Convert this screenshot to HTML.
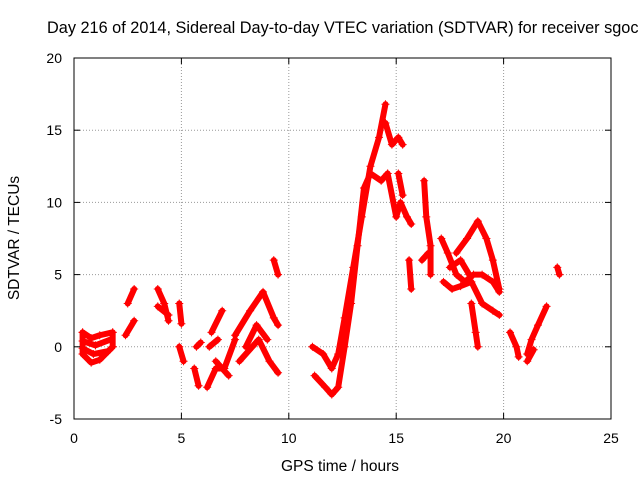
<!DOCTYPE html>
<html><head><meta charset="utf-8"><style>
body{margin:0;background:#fff;overflow:hidden;}
svg text{font-family:"Liberation Sans",sans-serif;font-size:14px;fill:#000;}
</style></head><body>
<svg id="chart" width="640" height="480" xmlns="http://www.w3.org/2000/svg">
<rect width="640" height="480" fill="#fff"/>
<text x="47" y="33" style="font-size:16.3px">Day 216 of 2014, Sidereal Day-to-day VTEC variation (SDTVAR) for receiver sgoc</text>
<g id="grid"></g>
<g id="marks"></g>
<rect x="74" y="58" width="537" height="361" fill="none" stroke="#000" stroke-width="1"/>
<g id="ticks"></g>
<text x="340" y="471" text-anchor="middle" style="font-size:15.5px">GPS time / hours</text>
<text transform="translate(19,238) rotate(-90)" text-anchor="middle" style="font-size:15.5px">SDTVAR / TECUs</text>
</svg>
<script>
const xTicks=[0,5,10,15,20,25];
const yTicks=[-5,0,5,10,15,20];
const tracks=[
[[0.4,1.0],[0.8,0.6],[1.2,0.8],[1.8,1.0]],
[[0.4,-0.5],[0.8,-1.1],[1.2,-0.9],[1.8,0.0]],
[[0.4,0.4],[1.0,0.1],[1.7,0.5]],
[[0.4,-0.1],[0.9,-0.5],[1.6,-0.3]],
[[0.4,1.0],[0.4,-0.5]],
[[1.8,1.0],[1.8,0.0]],
[[2.4,0.8],[2.8,1.8]],
[[2.5,3.0],[2.8,4.0]],
[[3.9,4.0],[4.2,3.0],[4.4,1.8]],
[[3.9,2.8],[4.4,2.2]],
[[4.9,3.0],[5.0,1.6]],
[[4.9,0.0],[5.1,-1.0]],
[[5.6,-1.5],[5.8,-2.7]],
[[5.7,0.0],[5.9,0.3]],
[[6.4,1.0],[6.9,2.5]],
[[6.3,0.0],[6.7,0.5]],
[[6.2,-2.8],[6.6,-1.5],[7.0,-1.5],[7.5,0.5]],
[[6.6,-1.0],[7.2,-2.0]],
[[7.5,0.8],[8.2,2.5],[8.8,3.8],[9.3,2.0],[9.5,1.5]],
[[7.7,-1.0],[8.3,0],[8.6,0.5],[9.1,-1.0],[9.5,-1.8]],
[[8.0,0],[8.5,1.5],[9.0,0.5]],
[[9.3,6],[9.5,5]],
[[11.1,0],[11.6,-0.5],[12.0,-1.5],[12.3,-0.5],[12.6,2],[13,5.5],[13.4,9],[13.8,12.5],[14.2,14.5],[14.5,16.8]],
[[11.2,-2],[11.7,-2.8],[12.0,-3.3],[12.3,-2.8],[12.6,0],[12.9,3],[13.2,7],[13.5,11],[13.8,12],[14.3,11.5],[14.6,12]],
[[14.5,15.5],[14.8,14],[15.1,14.5],[15.3,14]],
[[14.6,12],[15,9],[15.2,10],[15.5,9],[15.7,8.5]],
[[15.1,12],[15.3,10.5]],
[[15.6,6],[15.7,4]],
[[16.3,11.5],[16.4,9],[16.6,7],[16.6,5]],
[[16.2,6],[16.5,6.5]],
[[17.1,7.5],[17.4,6.5],[17.8,5],[18.2,4.5],[18.6,5],[19,5],[19.5,4.5],[19.8,3.8]],
[[17.2,4.5],[17.6,4],[18,4.2],[18.5,4.5],[19,3],[19.5,2.5],[19.8,2.2]],
[[17.8,6.5],[18.3,7.5],[18.8,8.7],[19.2,7.5],[19.5,6],[19.8,4]],
[[17.5,5.5],[18.0,6.0],[18.4,5]],
[[18.5,3],[18.7,1],[18.8,0]],
[[20.3,1],[20.6,0],[20.7,-0.7]],
[[21.1,-0.5],[21.3,0.5],[21.6,1.5],[22,2.8]],
[[21.1,-1],[21.4,-0.2]],
[[22.5,5.5],[22.6,5]]
];
const NS="http://www.w3.org/2000/svg";
const X=v=>74+v*537/25;
const Y=v=>58+(20-v)*361/25;
function mk(t,a,p){const e=document.createElementNS(NS,t);for(const k in a)e.setAttribute(k,a[k]);p.appendChild(e);return e;}
const grid=document.getElementById('grid'),ticks=document.getElementById('ticks'),marks=document.getElementById('marks');
xTicks.forEach(v=>{
  if(v>0&&v<25){const g=mk('line',{x1:X(v),x2:X(v),y1:58,y2:419,stroke:'#999','stroke-dasharray':'1,2'},grid);
  
  }
  mk('line',{x1:X(v),x2:X(v),y1:419,y2:413,stroke:'#000'},ticks);
  mk('line',{x1:X(v),x2:X(v),y1:58,y2:64,stroke:'#000'},ticks);
  const t=mk('text',{x:X(v),y:443,'text-anchor':'middle'},ticks);t.textContent=v;
  
  
});
yTicks.forEach(v=>{
  if(v>-5&&v<20){const g=mk('line',{x1:74,x2:611,y1:Y(v),y2:Y(v),stroke:'#999','stroke-dasharray':'1,2'},grid);
  
  }
  mk('line',{x1:74,x2:80,y1:Y(v),y2:Y(v),stroke:'#000'},ticks);
  mk('line',{x1:611,x2:605,y1:Y(v),y2:Y(v),stroke:'#000'},ticks);
  const t=mk('text',{x:62,y:Y(v)+5,'text-anchor':'end'},ticks);t.textContent=v;
  
  
});
tracks.forEach(tr=>{
  const pl=mk('polyline',{points:tr.map(p=>X(p[0])+','+Y(p[1])).join(' '),fill:'none',stroke:'#f00','stroke-width':6,'stroke-linejoin':'round','stroke-linecap':'round'},marks);
  
  
  tr.forEach(p=>{
    const x=X(p[0]),y=Y(p[1]);
    const m=mk('path',{d:`M${x-4},${y}H${x+4}M${x},${y-4}V${y+4}`,stroke:'#f00','stroke-width':1},marks);
    
    
  });
});
</script>
</body></html>
